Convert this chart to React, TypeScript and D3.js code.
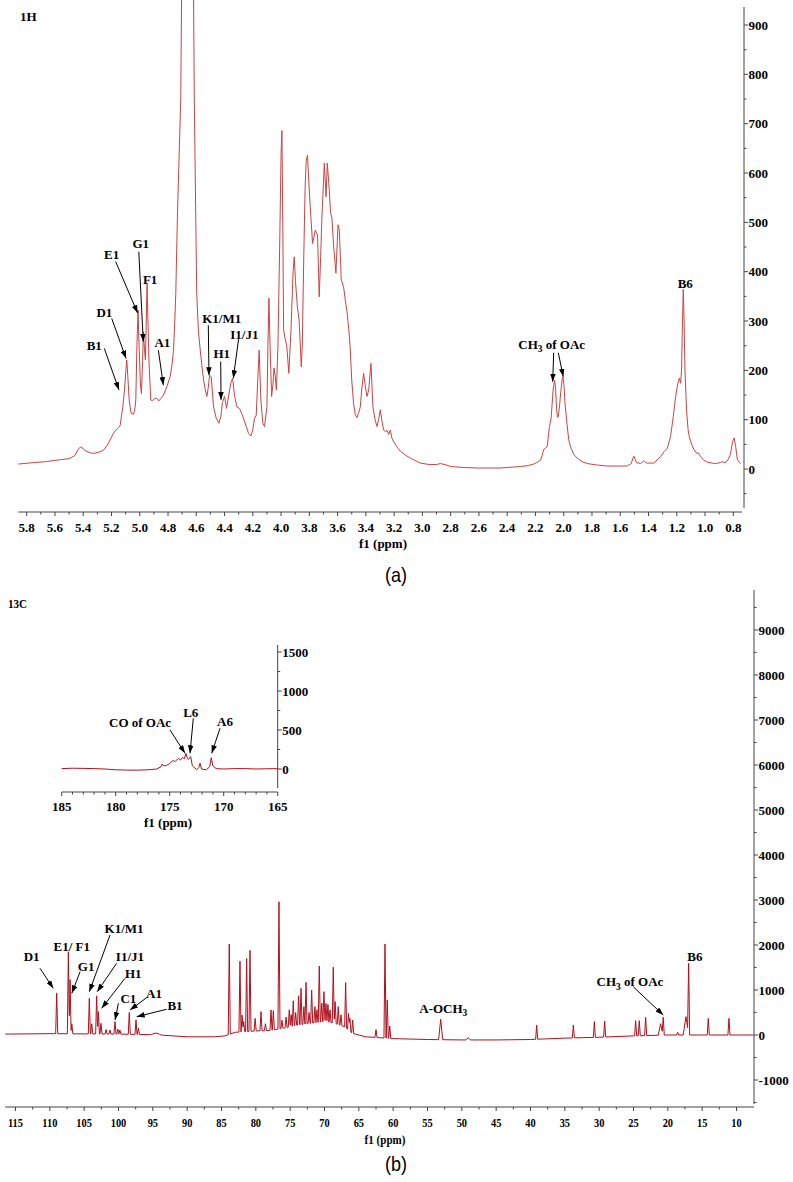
import React from "react";
import * as d3 from "d3";

// ---------------- DATA ----------------
// 1H spectrum vertices: [ppm, intensity]
const H_SPECTRUM: [number, number][] = [
  [5.86,10],[5.75,13],[5.66,15],[5.56,19],[5.5,21],[5.46,27],[5.435,40],[5.418,45],[5.4,41],[5.38,36],[5.34,32],[5.316,32],[5.28,35],[5.257,38],[5.23,48],[5.21,59],[5.19,70],[5.174,77],[5.15,84],[5.139,88],[5.12,126],[5.108,160],[5.098,200],[5.092,221],[5.085,190],[5.075,140],[5.061,113],[5.045,111],[5.035,120],[5.028,140],[5.02,250],[5.012,322],[5.005,250],[4.995,170],[4.988,153],[4.98,220],[4.974,278],[4.966,240],[4.96,221],[4.954,300],[4.948,376],[4.942,300],[4.934,214],[4.922,140],[4.91,138],[4.895,143],[4.88,143],[4.865,138],[4.845,145],[4.832,150],[4.808,167],[4.785,187],[4.77,215],[4.761,241],[4.752,300],[4.745,356],[4.733,520],[4.71,748],[4.703,990],[4.62,990],[4.614,748],[4.597,356],[4.585,280],[4.572,241],[4.555,195],[4.54,165],[4.525,147],[4.515,165],[4.506,190],[4.494,187],[4.478,126],[4.459,103],[4.44,93],[4.426,106],[4.415,135],[4.4,147],[4.386,123],[4.37,150],[4.355,175],[4.343,184],[4.33,150],[4.313,126],[4.294,123],[4.275,110],[4.254,93],[4.23,72],[4.214,67],[4.2,79],[4.188,103],[4.176,109],[4.165,180],[4.155,241],[4.143,140],[4.129,93],[4.117,86],[4.1,126],[4.093,250],[4.086,346],[4.078,250],[4.067,147],[4.058,170],[4.05,205],[4.042,190],[4.033,160],[4.022,250],[4.01,450],[4.0,640],[3.994,686],[3.988,500],[3.982,282],[3.972,265],[3.96,250],[3.945,194],[3.93,280],[3.915,400],[3.907,430],[3.898,380],[3.885,330],[3.872,300],[3.857,207],[3.85,250],[3.84,420],[3.83,570],[3.822,625],[3.813,636],[3.805,590],[3.794,532],[3.777,457],[3.758,484],[3.742,474],[3.73,349],[3.72,430],[3.711,511],[3.694,620],[3.682,552],[3.673,620],[3.659,566],[3.65,520],[3.64,508],[3.628,451],[3.612,397],[3.597,495],[3.588,484],[3.574,383],[3.558,370],[3.546,343],[3.534,320],[3.52,280],[3.51,241],[3.5,180],[3.487,133],[3.475,110],[3.463,104],[3.45,115],[3.439,126],[3.43,160],[3.416,194],[3.405,170],[3.392,147],[3.38,160],[3.364,214],[3.357,170],[3.35,126],[3.335,100],[3.321,86],[3.31,100],[3.298,120],[3.285,95],[3.274,79],[3.262,76],[3.25,78],[3.238,70],[3.227,79],[3.215,62],[3.203,55],[3.18,45],[3.156,36],[3.12,28],[3.085,22],[3.015,12],[2.95,9],[2.9,9],[2.873,11],[2.84,9],[2.8,5],[2.7,3],[2.61,2],[2.45,2],[2.306,5],[2.25,7],[2.212,10],[2.185,14],[2.164,18],[2.15,30],[2.141,40],[2.13,42],[2.117,45],[2.101,86],[2.089,103],[2.075,160],[2.065,180],[2.058,165],[2.05,120],[2.044,105],[2.039,106],[2.03,126],[2.023,150],[2.012,180],[2.006,187],[1.998,170],[1.99,130],[1.976,90],[1.965,60],[1.952,45],[1.93,30],[1.905,22],[1.87,15],[1.834,11],[1.76,8],[1.692,6],[1.6,6],[1.551,6],[1.522,11],[1.51,22],[1.503,26],[1.495,20],[1.485,13],[1.456,11],[1.44,15],[1.433,17],[1.42,13],[1.409,12],[1.362,12],[1.315,25],[1.29,35],[1.267,42],[1.244,66],[1.225,106],[1.208,147],[1.192,174],[1.182,184],[1.173,174],[1.166,200],[1.161,280],[1.154,364],[1.148,300],[1.142,200],[1.131,120],[1.12,80],[1.112,66],[1.095,50],[1.079,40],[1.06,32],[1.048,33],[1.031,25],[1.01,18],[0.984,14],[0.95,12],[0.925,11],[0.89,13],[0.878,15],[0.865,13],[0.85,14],[0.835,20],[0.82,30],[0.805,55],[0.795,63],[0.785,50],[0.772,20],[0.76,14],[0.748,11]
];

// 13C baseline [ppm, intensity]
const C_BASELINE: [number, number][] = [
  [116.5,20],[110,30],[100,20],[96,10],[94,0],[90,-40],[86,-40],[84.5,-20],[83,60],[80,90],[78,100],[76,150],[74,220],[72,260],[70,300],[68.5,260],[67,180],[66,40],[64,-40],[62,-60],[60,-80],[55,-100],[50,-110],[45,-110],[40,-100],[35,-70],[30,-50],[25,-20],[20,0],[15,0],[10,0],[7.5,0]
];

// 13C peaks [ppm, top intensity, half width in ppm (optional)]
const C_PEAKS: [number, number, number?][] = [
  [109.0,930],[107.3,1850],[107.05,1230],[106.8,250],[104.25,815],[103.9,250],[103.18,870],[102.93,520],[102.55,260],[101.8,120],[101.24,110],[100.51,300],[100.1,130],[99.8,110],[98.43,500],[97.45,335],[97.1,150],[94.54,45,0.8],
  [83.87,2020],[82.31,1640],[82.0,440],[81.77,300],[81.34,1700],[80.85,1880],[80.1,370],[79.25,520],[78.6,250],[77.79,556],[77.45,540],[76.63,2960],[76.2,330],[75.6,400],[75.13,560],[74.85,450],[74.55,760],[74.2,500],[73.77,870],[73.42,1037],[73.0,630],[72.69,1170],[72.25,500],[71.87,1000],[71.4,630],[71.1,560],[70.76,1533],[70.4,704],[70.08,963],[69.79,700],[69.5,680],[69.2,560],[68.72,1510],[68.45,740],[68.0,630],[67.6,450],[66.92,1163],[66.5,480],[66.3,370],[65.9,333],
  [62.5,120],[61.19,2020],[60.86,780],[60.5,200],[53.08,348,0.3],[49.06,-60,0.3],[39.1,222],[33.76,222],[30.7,296],[29.2,311],[24.69,319],[24.16,319],[23.23,393],[21.05,250,0.35],[20.67,393],[18.57,59],[17.36,407,0.4],[16.97,1593],[14.11,370],[11.1,370]
];

// Inset (carbonyl region) [ppm, intensity]
const INSET_SPECTRUM: [number, number][] = [
  [185,5],[184,10],[183,8],[182,5],[181,0],[180,-10],[179,-14],[178,-15],[177,-10],[176.2,0],[175.8,30],[175.7,64],[175.55,40],[175.3,45],[175.0,70],[174.67,110],[174.5,95],[174.2,137],[174.0,115],[173.8,150],[173.65,130],[173.49,200],[173.35,130],[173.27,120],[173.06,160],[172.9,40],[172.5,-10],[172.3,20],[172.19,75],[172.05,0],[171.6,-10],[171.3,30],[171.15,145],[171.0,40],[170.7,5],[170,0],[169,5],[168,5],[167,0],[166,3],[165,5]
];

const H_X_LABELS = [5.8,5.6,5.4,5.2,5.0,4.8,4.6,4.4,4.2,4.0,3.8,3.6,3.4,3.2,3.0,2.8,2.6,2.4,2.2,2.0,1.8,1.6,1.4,1.2,1.0,0.8];
const H_Y_LABELS = [0,100,200,300,400,500,600,700,800,900];
const C_X_LABELS = [115,110,105,100,95,90,85,80,75,70,65,60,55,50,45,40,35,30,25,20,15,10];
const C_Y_LABELS = [-1000,0,1000,2000,3000,4000,5000,6000,7000,8000,9000];
const INSET_X_LABELS = [185,180,175,170,165];
const INSET_Y_LABELS = [0,500,1000,1500];

// annotations: tip in data coords, tail/label as pixel offsets from tip
const H_ARROWS = [
  { text: "B1", tip: [5.147, 160], tail: [-14.7, -41.7], label: [-24.7, -45] },
  { text: "D1", tip: [5.097, 224], tail: [-14.3, -40], label: [-21.7, -46] },
  { text: "E1", tip: [5.015, 316], tail: [-22, -51.6], label: [-26, -58.3] },
  { text: "G1", tip: [4.975, 258], tail: [-4.5, -90], label: [-2.6, -98.4] },
  { text: "A1", tip: [4.833, 170], tail: [-5, -35], label: [-1, -42.7] },
  { text: "K1/M1", tip: [4.51, 190], tail: [-0.7, -50], label: [12.7, -57] },
  { text: "H1", tip: [4.425, 140], tail: [-0.3, -38.3], label: [0.7, -46.7] },
  { text: "I1/J1", tip: [4.338, 184], tail: [5.4, -40], label: [11, -43.5] },
  { text: "CH_3 of OAc", tip: [2.078, 177], tail: [1, -29], label: [-1, -37.7] },
  { text: "", tip: [2.003, 187], tail: [-5, -24], label: [0, 0] },
];
const H_PEAK_LABELS = [
  { text: "F1", at: [4.948, 376], label: [3, -4.5] },
  { text: "B6", at: [1.154, 364], label: [2, -6] },
];
const C_ARROWS = [
  { text: "D1", tip: [109.5, 1038], tail: [-13.3, -20], label: [-21.6, -31.6] },
  { text: "G1", tip: [106.8, 927], tail: [8.3, -21.6], label: [14.3, -26.6] },
  { text: "K1/M1", tip: [104.25, 962], tail: [20.7, -56.7], label: [34.7, -63.4] },
  { text: "I1/J1", tip: [103.1, 962], tail: [19.4, -28.4], label: [32.7, -35] },
  { text: "H1", tip: [102.45, 593], tail: [23.3, -30], label: [31.6, -35] },
  { text: "C1", tip: [100.5, 333], tail: [3.3, -16.7], label: [13.3, -21.7] },
  { text: "A1", tip: [98.33, 556], tail: [16.7, -12.3], label: [24, -16.7] },
  { text: "B1", tip: [97.35, 407], tail: [30, -7.4], label: [38.3, -11.7] },
  { text: "CH_3 of OAc", tip: [20.67, 444], tail: [-30, -28.3], label: [-33.3, -33.3] },
];
const C_PEAK_LABELS = [
  { text: "E1/ F1", at: [107.3, 1850], label: [3.4, -5] },
  { text: "A-OCH_3", at: [53.08, 348], label: [2.6, -11] },
  { text: "B6", at: [16.97, 1593], label: [6.3, -6.6] },
];
const INSET_ARROWS = [
  { text: "CO of OAc", tip: [173.58, 201], tail: [-15, -23.3], label: [-45, -30.6] },
  { text: "L6", tip: [173.12, 201], tail: [3.3, -35], label: [0.7, -40.6] },
  { text: "A6", tip: [171.11, 201], tail: [8.3, -25], label: [13.3, -31.6] },
];

// ---------------- RENDER ----------------
const FONT = "'Liberation Serif','Times New Roman',Times,serif";
const RED_H = "#c94444";
const RED_C = "#b0101c";
const DEF_W = 0.15;

function Txt({ x, y, text, size = 13, anchor = "middle", sx = 1, weight = "bold", family = FONT }: any) {
  const parts = String(text).split(/(_\d)/);
  const kids: any[] = [];
  let sub = false;
  parts.forEach((p: string, i: number) => {
    if (p.startsWith("_")) {
      kids.push(<tspan key={i} fontSize={size * 0.72} dy={size * 0.25}>{p.slice(1)}</tspan>);
      sub = true;
    } else if (p) {
      kids.push(<tspan key={i} dy={sub ? -size * 0.25 : 0}>{p}</tspan>);
      sub = false;
    }
  });
  return (
    <text transform={`translate(${x},${y + size * 0.35}) scale(${sx},1)`} textAnchor={anchor}
      fontFamily={family} fontWeight={weight} fontSize={size} fill="#000" style={{ whiteSpace: "pre" }}>
      {kids}
    </text>
  );
}

function XAxis({ scale, y, x0, x1, labels, minors, fmt, tick = 4, minorTick = 2.5, labelY, size = 13, sx = 1 }: any) {
  return (
    <g>
      <line x1={x0} x2={x1} y1={y} y2={y} stroke="#444" strokeWidth={1} />
      {minors.map((v: number, i: number) => (
        <line key={"m" + i} x1={scale(v)} x2={scale(v)} y1={y} y2={y + minorTick} stroke="#444" />
      ))}
      {labels.map((v: number, i: number) => (
        <g key={i}>
          <line x1={scale(v)} x2={scale(v)} y1={y} y2={y + tick} stroke="#444" />
          <Txt x={scale(v)} y={labelY} text={fmt(v)} size={size} sx={sx} />
        </g>
      ))}
    </g>
  );
}

function YAxis({ scale, x, y0, y1, labels, minors, tick = 4, minorTick = 2.5, size = 13 }: any) {
  return (
    <g>
      <line x1={x} x2={x} y1={y0} y2={y1} stroke="#444" strokeWidth={1} />
      {minors.map((v: number, i: number) => (
        <line key={"m" + i} x1={x} x2={x + minorTick} y1={scale(v)} y2={scale(v)} stroke="#444" />
      ))}
      {labels.map((v: number, i: number) => (
        <g key={i}>
          <line x1={x} x2={x + tick} y1={scale(v)} y2={scale(v)} stroke="#444" />
          <Txt x={x + tick + 0.5} y={scale(v)} text={String(v)} size={size} anchor="start" />
        </g>
      ))}
    </g>
  );
}

function Arrows({ items, xs, ys, size = 13 }: any) {
  return (
    <g>
      {items.map((a: any, i: number) => {
        const tx = xs(a.tip[0]), ty = ys(a.tip[1]);
        return (
          <g key={i}>
            <line x1={tx + a.tail[0]} y1={ty + a.tail[1]} x2={tx} y2={ty} stroke="#000" strokeWidth={1} markerEnd="url(#arrowhead)" />
            {a.text ? <Txt x={tx + a.label[0]} y={ty + a.label[1]} text={a.text} size={size} /> : null}
          </g>
        );
      })}
    </g>
  );
}

function PeakLabels({ items, xs, ys, size = 13 }: any) {
  return (
    <g>
      {items.map((a: any, i: number) => (
        <Txt key={i} x={xs(a.at[0]) + a.label[0]} y={ys(a.at[1]) + a.label[1]} text={a.text} size={size} />
      ))}
    </g>
  );
}

function buildCarbon(): [number, number][] {
  const base = d3.scaleLinear().domain(C_BASELINE.map((d) => d[0])).range(C_BASELINE.map((d) => d[1])).clamp(true);
  const xs = new Set<number>();
  C_BASELINE.forEach((d) => xs.add(d[0]));
  C_PEAKS.forEach(([p, , w = DEF_W]) => { xs.add(p); xs.add(p + w); xs.add(p - w); });
  const sorted = Array.from(xs).sort((a, b) => b - a);
  return sorted.map((x) => {
    let v = base(x);
    for (const [p, h, w = DEF_W] of C_PEAKS) {
      const d = Math.abs(x - p);
      if (d <= w + 1e-9) {
        const t = base(x) + (h - base(p)) * (1 - d / w);
        if (t > v) v = t;
      }
    }
    return [x, v] as [number, number];
  });
}

export default function App() {
  const xH = d3.scaleLinear().domain([5.8, 0.8]).range([26.7, 733.3]);
  const yH = d3.scaleLinear().domain([0, 900]).range([469, 25]);
  const xC = d3.scaleLinear().domain([115, 10]).range([15.5, 736.5]);
  const yC = d3.scaleLinear().domain([0, 9000]).range([1035, 630]);
  const xI = d3.scaleLinear().domain([185, 165]).range([61.7, 277.7]);
  const yI = d3.scaleLinear().domain([0, 1500]).range([769, 652]);

  const lineH = d3.line<[number, number]>().x((d) => xH(d[0])).y((d) => yH(d[1]));
  const lineC = d3.line<[number, number]>().x((d) => xC(d[0])).y((d) => yC(d[1]));
  const lineI = d3.line<[number, number]>().x((d) => xI(d[0])).y((d) => yI(d[1]));

  const carbon = buildCarbon();

  const hMinorX = d3.range(57, 7, -2).map((v) => v / 10);
  const hMinorY = d3.range(-50, 900, 100);
  const cMinorX = d3.range(112.5, 8, -5);
  const cMinorY = d3.range(-1500, 10000, 1000);
  const iMinorX = d3.range(184, 165, -1).filter((v) => v % 5 !== 0);
  const iMinorY = [250, 750, 1250];

  return (
    <svg width={793} height={1182} style={{ position: "absolute", left: 0, top: 0, background: "#fff" }}>
      <defs>
        <marker id="arrowhead" viewBox="0 0 10 7" refX={10} refY={3.5} markerWidth={8} markerHeight={5.6}
          orient="auto" markerUnits="userSpaceOnUse">
          <path d="M0,0 L10,3.5 L0,7 z" fill="#000" />
        </marker>
      </defs>

      {/* ---------- (a) 1H ---------- */}
      <Txt x={20} y={16} text="1H" anchor="start" size={13} />
      <path d={lineH(H_SPECTRUM) || ""} fill="none" stroke={RED_H} strokeWidth={1} />
      <XAxis scale={xH} y={512} x0={18.3} x1={742} labels={H_X_LABELS} minors={hMinorX}
        fmt={(v: number) => v.toFixed(1)} labelY={527} />
      <YAxis scale={yH} x={744} y0={7} y1={508} labels={H_Y_LABELS} minors={hMinorY} />
      <Txt x={383} y={543} text="f1 (ppm)" size={13} />
      <Arrows items={H_ARROWS} xs={xH} ys={yH} />
      <PeakLabels items={H_PEAK_LABELS} xs={xH} ys={yH} />
      <Txt x={396} y={575} text="(a)" size={20} weight="normal" family="'Liberation Sans Narrow','Liberation Sans',Arial,sans-serif" sx={0.9} />

      {/* ---------- (b) 13C ---------- */}
      <Txt x={8} y={603} text="13C" anchor="start" size={13} sx={0.85} />
      <path d={lineC(carbon) || ""} fill="none" stroke={RED_C} strokeWidth={1} />
      <XAxis scale={xC} y={1107} x0={5} x1={754} labels={C_X_LABELS} minors={cMinorX}
        fmt={(v: number) => String(v)} labelY={1122} sx={0.8} />
      <YAxis scale={yC} x={754} y0={590} y1={1104} labels={C_Y_LABELS} minors={cMinorY} />
      <Txt x={385} y={1139} text="f1 (ppm)" size={13} sx={0.85} />
      <Arrows items={C_ARROWS} xs={xC} ys={yC} />
      <PeakLabels items={C_PEAK_LABELS} xs={xC} ys={yC} />
      <Txt x={396} y={1164} text="(b)" size={20} weight="normal" family="'Liberation Sans Narrow','Liberation Sans',Arial,sans-serif" sx={0.9} />

      {/* ---------- inset ---------- */}
      <path d={lineI(INSET_SPECTRUM) || ""} fill="none" stroke={RED_C} strokeWidth={1} />
      <XAxis scale={xI} y={792} x0={61.7} x1={277.7} labels={INSET_X_LABELS} minors={iMinorX}
        fmt={(v: number) => String(v)} labelY={806} />
      <YAxis scale={yI} x={277.7} y0={645} y1={788} labels={INSET_Y_LABELS} minors={iMinorY} />
      <Txt x={168} y={822} text="f1 (ppm)" size={13} />
      <Arrows items={INSET_ARROWS} xs={xI} ys={yI} />
    </svg>
  );
}
